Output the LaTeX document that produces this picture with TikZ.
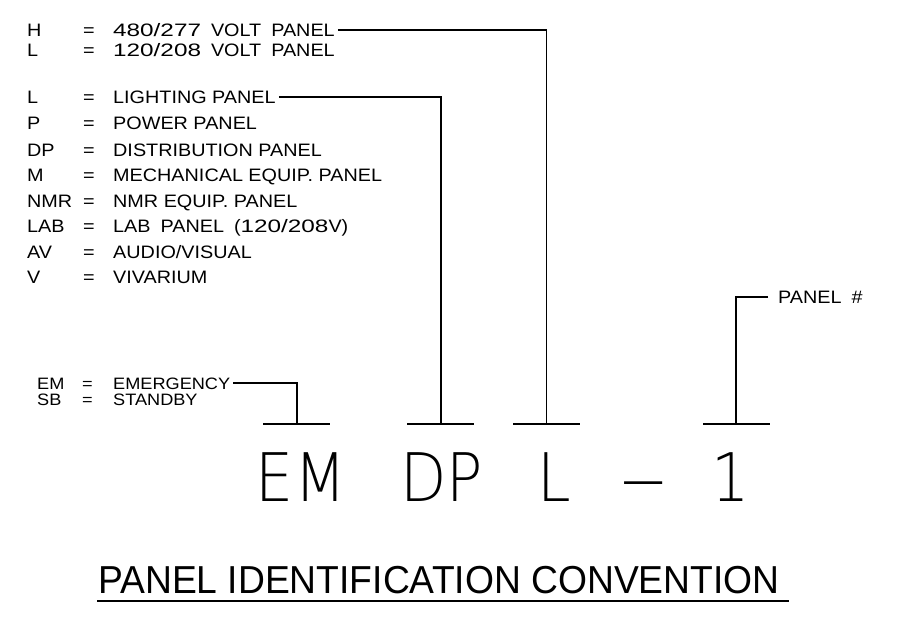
\documentclass[tikz,border=0pt]{standalone}
\usepackage{fontspec}
\newfontfamily\legfont{Liberation Sans}[FakeStretch=1.1]
\newfontfamily\digfont{Liberation Sans}[FakeStretch=1.35]
\newfontfamily\bigfont{DejaVu Sans ExtraLight}[FakeStretch=0.9]
\newfontfamily\dashfont{DejaVu Sans ExtraLight}[FakeStretch=0.63]
\newfontfamily\titlefont{Liberation Sans}[FakeStretch=0.955]
\newcommand\wsp{\hspace{10pt}}
\newcommand\legrow[4]{%
  \node[leg] (#1a) at (27,#4) {#2};
  \node[leg] (#1e) at (83,#4) {=};
  \node[leg] (#1) at (113,#4) {#3};}
\newcommand\emrow[4]{%
  \node[legs] (#1a) at (37,#4) {#2};
  \node[legs] (#1e) at (82,#4) {=};
  \node[legs] (#1) at (113,#4) {#3};}
\tikzset{
  leg/.style={anchor=west,inner sep=0pt,text height=13pt,text depth=0pt,
    font=\legfont\fontsize{18}{20}\selectfont},
  legs/.style={anchor=west,inner sep=0pt,text height=12pt,text depth=0pt,
    font=\legfont\fontsize{16.5}{18}\selectfont},
  big/.style={anchor=base,inner sep=0pt,font=\bigfont\fontsize{67}{70}\selectfont},
  conn/.style={line width=1.3pt},
  tbar/.style={line width=2pt},
}
\begin{document}
\begin{tikzpicture}[x=1pt,y=-1pt]
\useasboundingbox (0,0) rectangle (899,622);
% legend
\legrow{h}{H}{{\digfont 480/277}\wsp VOLT\wsp PANEL}{30}
\legrow{l}{L}{{\digfont 120/208}\wsp VOLT\wsp PANEL}{50}
\legrow{lt}{L}{LIGHTING PANEL}{97}
\legrow{p}{P}{POWER PANEL}{123}
\legrow{dp}{DP}{DISTRIBUTION PANEL}{149.5}
\legrow{m}{M}{MECHANICAL EQUIP. PANEL}{175}
\legrow{nmr}{NMR}{NMR EQUIP. PANEL}{200.5}
\legrow{lab}{LAB}{LAB\wsp PANEL\wsp ({\digfont 120/208}V)}{226}
\legrow{av}{AV}{AUDIO/VISUAL}{251.5}
\legrow{v}{V}{VIVARIUM}{277}
\emrow{em}{EM}{EMERGENCY}{383}
\emrow{sb}{SB}{STANDBY}{399}
\node[leg] (pn) at (778,297) {PANEL\wsp\#};
% bars and stems
\coordinate (s1) at (297,424);
\coordinate (s2) at (441,424);
\coordinate (s3) at (546.5,424);
\coordinate (s4) at (736,424);
\coordinate (p4) at (736,297);
\draw[tbar] (263,424) -- (330,424);
\draw[tbar] (407,424) -- (474,424);
\draw[tbar] (513,424) -- (580,424);
\draw[tbar] (703,424) -- (770,424);
\draw[conn] ([xshift=3pt]em.east) -| (s1);
\draw[conn] ([xshift=3pt]lt.east) -| (s2);
\draw[conn] ([xshift=3pt]h.east) -| (s3);
\draw[conn] ([xshift=-10pt]pn.west) -- (p4) -- (s4);
% big identifier
\node[big] (bEM) at (301,501) {EM};
\node[big] (bDP) at (441.5,501) {DP};
\node[big] (bL) at (554.5,501) {L};
\node[big,font=\dashfont\fontsize{67}{70}\selectfont] (bD) at (644,501) {—};
\node[big] (b1) at (731,501) {1};
% title
\node[anchor=base west,inner sep=0pt,font=\titlefont\fontsize{39}{42}\selectfont] (title) at (98,593) {PANEL IDENTIFICATION CONVENTION};
\draw[line width=2pt] ([xshift=-1pt,yshift=-8pt]title.base west) -- ([xshift=9pt,yshift=-8pt]title.base east);
\end{tikzpicture}
\end{document}
